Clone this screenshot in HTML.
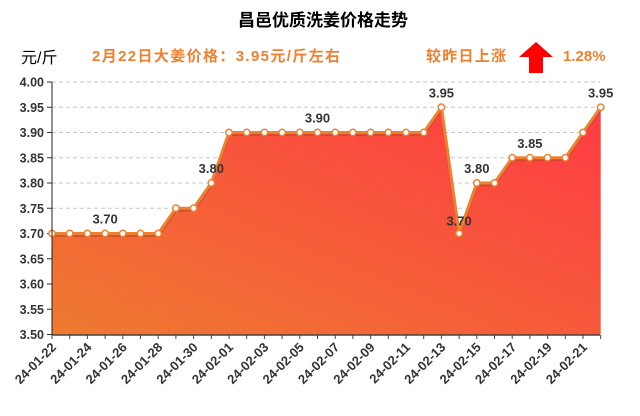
<!DOCTYPE html><html><head><meta charset="utf-8"><style>body{margin:0;background:#fff}svg text{font-family:"Liberation Sans","Noto Sans CJK SC",sans-serif}</style></head><body>
<svg width="640" height="411" xmlns="http://www.w3.org/2000/svg">
<defs><linearGradient id="g" x1="0" y1="1" x2="1" y2="0"><stop offset="0" stop-color="#ee7a30"/><stop offset="1" stop-color="#ff3a44"/></linearGradient></defs>
<text x="323" y="26" text-anchor="middle" font-size="17" font-weight="bold" fill="#000">昌邑优质洗姜价格走势</text>
<text x="21" y="63" font-size="16" fill="#000">元/斤</text>
<text x="92" y="61" font-size="15" font-weight="bold" fill="#ee8030" textLength="248">2月22日大姜价格：3.95元/斤左右</text>
<text x="426" y="61" font-size="15" font-weight="bold" fill="#ee8030" textLength="80">较昨日上涨</text>
<polygon points="536,45 519,60 529,60 529,76 543,76 543,60 553,60" fill="#ff0000" transform="translate(0,-3)"/>
<text x="563" y="61" font-size="15" font-weight="bold" fill="#ee8030">1.28%</text>
<g id="c"></g>
<script>
var ns="http://www.w3.org/2000/svg";
function Y(v){return 334.5-(v-3.5)/0.05*25.25}
function X(i){return 52+i*17.7}
var d=[3.7,3.7,3.7,3.7,3.7,3.7,3.7,3.75,3.75,3.8,3.9,3.9,3.9,3.9,3.9,3.9,3.9,3.9,3.9,3.9,3.9,3.9,3.95,3.7,3.8,3.8,3.85,3.85,3.85,3.85,3.9,3.95];
var c=document.getElementById("c");
function el(t,a,txt){var e=document.createElementNS(ns,t);for(var k in a)e.setAttribute(k,a[k]);if(txt)e.textContent=txt;c.appendChild(e);return e}
for(var i=0;i<=10;i++){var v=3.5+i*0.05,y=Y(v);if(i>0)el("line",{x1:52,x2:600,y1:y,y2:y,stroke:"#c8c8c8","stroke-dasharray":"4,3"});el("line",{x1:47,x2:52,y1:y,y2:y,stroke:"#333"});el("text",{x:44,y:y+4.5,"text-anchor":"end","font-size":"12.5","font-weight":"bold",fill:"#333"},v.toFixed(2))}
var p=d.map(function(v,i){return X(i)+","+Y(v)}).join(" ");
el("polygon",{points:X(0)+",334.5 "+p+" "+X(31)+",334.5",fill:"url(#g)"});
el("polyline",{points:d.map(function(v,i){return X(i)+","+(Y(v)+2)}).join(" "),fill:"none",stroke:"#b84a2a","stroke-width":3,opacity:.6});
el("polyline",{points:p,fill:"none",stroke:"#ee8030","stroke-width":3});
d.forEach(function(v,i){el("circle",{cx:X(i),cy:Y(v),r:3.2,fill:"#fff",stroke:"#ee8030","stroke-width":1.5})});
el("line",{x1:52,x2:52,y1:82,y2:335,stroke:"#222"});
el("line",{x1:52,x2:600,y1:335,y2:335,stroke:"#444","stroke-width":1.5});
for(var i=0;i<32;i++){el("line",{x1:X(i),x2:X(i),y1:335,y2:339,stroke:"#444"});}
for(var i=0;i<32;i+=2){var m=i<10?"01":"02",dd=i<10?22+i:i-9;var lab="24-"+m+"-"+(dd<10?"0"+dd:dd);el("text",{x:X(i)+5,y:348,"text-anchor":"end","font-size":"13","font-weight":"bold",fill:"#333",transform:"rotate(-45 "+(X(i)+5)+" 348)"},lab)}
[[3,3.7,-10],[9,3.8,-10],[15,3.9,-10],[22,3.95,-10],[23,3.7,-8],[24,3.8,-10],[27,3.85,-10],[31,3.95,-10]].forEach(function(a){el("text",{x:X(a[0]),y:Y(a[1])+a[2],"text-anchor":"middle","font-size":"13","font-weight":"bold",fill:"#333"},a[1].toFixed(2))});
</script>
</svg></body></html>
